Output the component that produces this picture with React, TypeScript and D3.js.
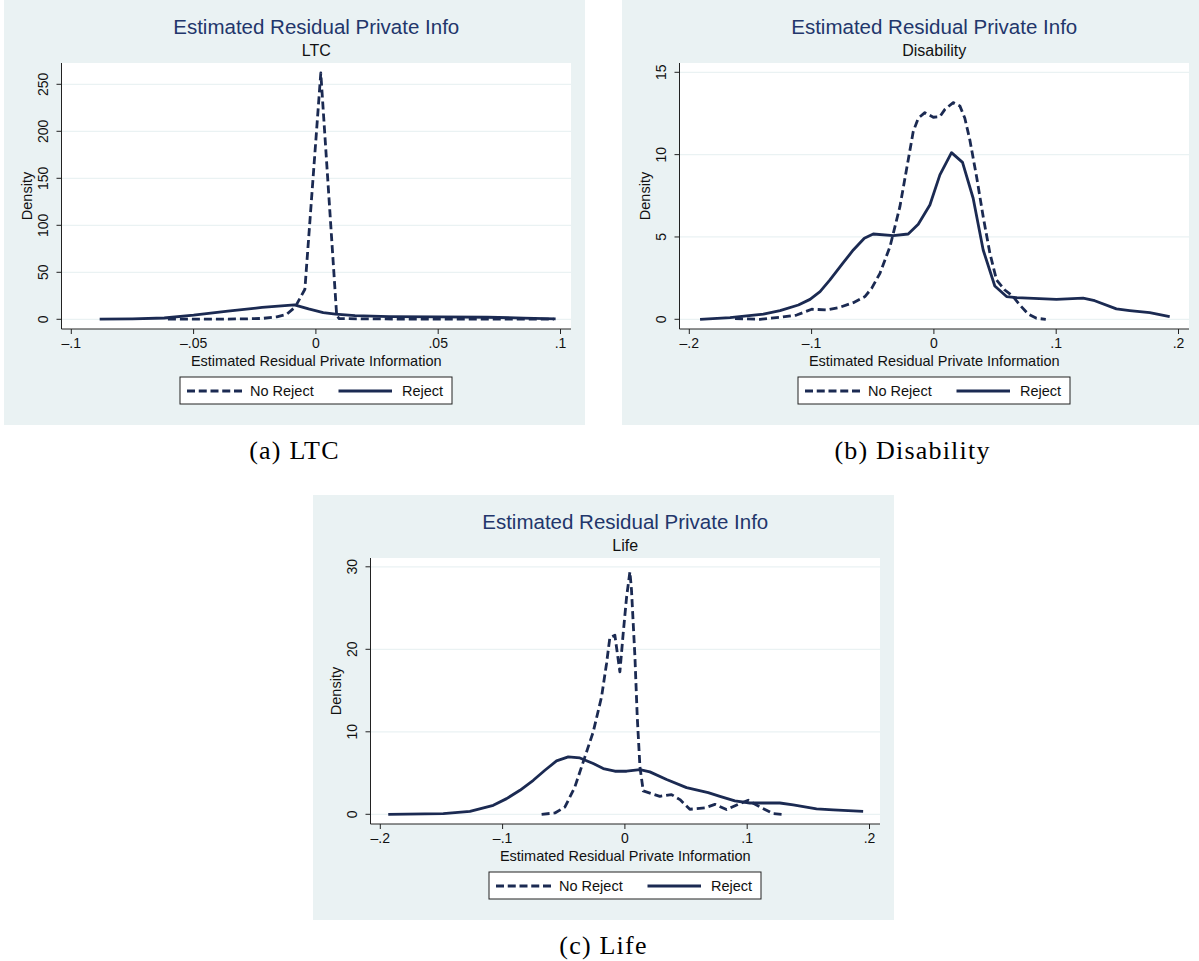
import React from "react";
import * as d3 from "d3";

type Pt = [number, number];

// kernel density curves: [residual, density]
const ltcNoReject: Pt[] = [
  [-0.0605, 0.1], [-0.05, 0.1], [-0.04, 0.2], [-0.03, 0.4], [-0.022, 0.9], [-0.016, 2.6],
  [-0.012, 5.2], [-0.0085, 13], [-0.0045, 32], [0.002, 262], [0.0085, 4], [0.0095, 0.8],
  [0.02, 0.4], [0.04, 0.3], [0.06, 0.2], [0.08, 0.1], [0.0973, 0.1],
];
const ltcReject: Pt[] = [
  [-0.0884, 0.1], [-0.075, 0.4], [-0.062, 1.4], [-0.05, 4.4], [-0.036, 8.8], [-0.022, 12.6],
  [-0.0088, 15.4], [-0.003, 11], [0.003, 7.2], [0.008, 5.6], [0.016, 3.9], [0.03, 2.9],
  [0.05, 2.5], [0.07, 2.2], [0.085, 1.3], [0.098, 0.4],
];

const disNoReject: Pt[] = [
  [-0.1626, 0.04], [-0.1422, 0], [-0.1258, 0.12], [-0.1122, 0.26], [-0.0999, 0.61], [-0.0877, 0.57],
  [-0.0768, 0.73], [-0.0659, 1.01], [-0.0564, 1.38], [-0.0509, 1.88], [-0.0441, 2.79], [-0.0359, 4.41],
  [-0.0278, 6.84], [-0.021, 9.68], [-0.0169, 11.4], [-0.0128, 12.21], [-0.0074, 12.55], [-0.0005, 12.27],
  [0.0049, 12.31], [0.009, 12.75], [0.0158, 13.16], [0.0212, 12.96], [0.0253, 12.21], [0.0294, 10.89],
  [0.0349, 8.66], [0.0403, 6.23], [0.0458, 4.01], [0.0512, 2.39], [0.058, 1.78], [0.0648, 1.38],
  [0.0703, 0.87], [0.0771, 0.32], [0.0839, 0.06], [0.0915, 0],
];
const disReject: Pt[] = [
  [-0.1912, 0], [-0.1667, 0.1], [-0.1394, 0.32], [-0.1258, 0.53], [-0.1108, 0.87], [-0.1013, 1.21],
  [-0.0931, 1.68], [-0.085, 2.39], [-0.0741, 3.44], [-0.0659, 4.21], [-0.0569, 4.92], [-0.0496, 5.18],
  [-0.0332, 5.08], [-0.021, 5.18], [-0.0128, 5.77], [-0.0033, 6.94], [0.0049, 8.77], [0.0144, 10.12],
  [0.0234, 9.53], [0.0321, 7.35], [0.0403, 4.21], [0.0498, 2.02], [0.0594, 1.38], [0.0675, 1.32],
  [0.1002, 1.21], [0.122, 1.28], [0.1315, 1.13], [0.1492, 0.63], [0.1601, 0.53], [0.1765, 0.4],
  [0.1928, 0.16],
];

const lifeNoReject: Pt[] = [
  [-0.0681, 0], [-0.0572, 0.16], [-0.049, 0.89], [-0.0409, 3.32], [-0.0327, 6.96], [-0.0259, 9.99],
  [-0.0191, 14.23], [-0.015, 18.28], [-0.0123, 21.43], [-0.0082, 21.71], [-0.0041, 17.27], [-0.0014, 21.92],
  [0.0014, 26.36], [0.0041, 29.4], [0.0054, 27.17], [0.0082, 19.09], [0.0101, 11.81], [0.0123, 5.74],
  [0.015, 2.83], [0.0218, 2.51], [0.0286, 2.18], [0.0381, 2.39], [0.045, 1.78], [0.0531, 0.61],
  [0.0654, 0.77], [0.0736, 1.21], [0.0831, 0.57], [0.0926, 1.21], [0.1008, 1.7], [0.1104, 0.89],
  [0.1213, 0.08], [0.1281, 0],
];
const lifeReject: Pt[] = [
  [-0.1935, 0], [-0.1485, 0.08], [-0.1267, 0.36], [-0.1076, 1.09], [-0.0967, 1.9], [-0.0858, 2.91],
  [-0.0749, 4.12], [-0.0654, 5.34], [-0.0559, 6.47], [-0.0463, 6.96], [-0.0368, 6.83], [-0.0259, 6.15],
  [-0.0177, 5.54], [-0.0082, 5.22], [0.0014, 5.22], [0.0123, 5.42], [0.0204, 5.14], [0.0341, 4.21],
  [0.0504, 3.23], [0.0681, 2.63], [0.0777, 2.18], [0.0899, 1.62], [0.1022, 1.37], [0.1267, 1.37],
  [0.1376, 1.13], [0.1567, 0.65], [0.1703, 0.53], [0.1948, 0.36],
];

const ltcXTicks = [-0.1, -0.05, 0, 0.05, 0.1];
const wideXTicks = [-0.2, -0.1, 0, 0.1, 0.2];
const ltcYTicks = [0, 50, 100, 150, 200, 250];
const disYTicks = [0, 5, 10, 15];
const lifeYTicks = [0, 10, 20, 30];

const titleText = "Estimated Residual Private Info";
const xTitle = "Estimated Residual Private Information";
const yTitle = "Density";
const legendLabels = ["No Reject", "Reject"];

const NAVY = "#1b2a52";
const TITLE = "#22366b";
const BG = "#eaf2f3";
const GRID = "#eaf2f3";
const SANS = "'Liberation Sans', Arial, sans-serif";
const SERIF = "'Liberation Serif', 'Times New Roman', serif";

// stata style: -.05 / .1 / 0
const fmt = (v: number) => {
  if (Math.abs(v) < 1e-9) return "0";
  const s = String(+Math.abs(v).toFixed(3)).replace(/^0/, "");
  return (v < 0 ? "\u2013" : "") + s;
};

const W = 581, H = 425;
const plotL = 57.5, plotR = 567, plotT = 63, plotB = 329;

interface PanelProps {
  ox: number; oy: number;
  xDomain: [number, number]; xTicks: number[];
  yMax: number; yTopPx: number; yTicks: number[];
  noReject: Pt[]; reject: Pt[];
  subtitle: string; caption: string;
}

function Panel(p: PanelProps) {
  const x = d3.scaleLinear().domain(p.xDomain).range([67.3, 556.5]);
  const y = d3.scaleLinear().domain([0, p.yMax]).range([319.3, p.yTopPx]);
  const line = d3.line<Pt>().x(d => x(d[0])).y(d => y(d[1]));
  const cx = (plotL + plotR) / 2;
  return (
    <g transform={`translate(${p.ox},${p.oy})`}>
      <rect x={0} y={0} width={W} height={H} fill={BG} />
      <rect x={plotL} y={plotT} width={plotR - plotL} height={plotB - plotT} fill="#fff" />
      {p.yTicks.map(t => (
        <line key={"g" + t} x1={plotL} x2={plotR} y1={y(t)} y2={y(t)} stroke={GRID} strokeWidth={1.2} />
      ))}
      <path d={line(p.reject) || ""} fill="none" stroke={NAVY} strokeWidth={2.8} strokeLinejoin="round" />
      <path d={line(p.noReject) || ""} fill="none" stroke={NAVY} strokeWidth={2.8} strokeDasharray="8,4" strokeLinejoin="round" />
      {/* axes */}
      <line x1={plotL} x2={plotL} y1={plotT} y2={plotB} stroke="#222" strokeWidth={1} />
      <line x1={plotL} x2={plotR} y1={plotB} y2={plotB} stroke="#222" strokeWidth={1} />
      {p.yTicks.map(t => (
        <g key={"y" + t}>
          <line x1={plotL - 5} x2={plotL} y1={y(t)} y2={y(t)} stroke="#222" strokeWidth={1} />
          <text transform={`translate(44,${y(t)}) rotate(-90)`} textAnchor="middle" fontSize={14} fontFamily={SANS} fill="#111">{fmt(t)}</text>
        </g>
      ))}
      {p.xTicks.map(t => (
        <g key={"x" + t}>
          <line x1={x(t)} x2={x(t)} y1={plotB} y2={plotB + 5} stroke="#222" strokeWidth={1} />
          <text x={x(t)} y={348} textAnchor="middle" fontSize={14} fontFamily={SANS} fill="#111">{fmt(t)}</text>
        </g>
      ))}
      <text transform={`translate(28,${(plotT + plotB) / 2}) rotate(-90)`} textAnchor="middle" fontSize={14.5} fontFamily={SANS} fill="#111">{yTitle}</text>
      <text x={cx} y={366} textAnchor="middle" fontSize={14.5} fontFamily={SANS} fill="#111">{xTitle}</text>
      <text x={cx} y={33.5} textAnchor="middle" fontSize={20.5} fontFamily={SANS} fill={TITLE}>{titleText}</text>
      <text x={cx} y={55.5} textAnchor="middle" fontSize={16} fontFamily={SANS} fill="#111">{p.subtitle}</text>
      {/* legend */}
      <rect x={176} y={377} width={272} height={27} fill="#fff" stroke="#222" strokeWidth={1} />
      <line x1={183} x2={238} y1={391} y2={391} stroke={NAVY} strokeWidth={2.8} strokeDasharray="8,3.75" />
      <text x={246} y={396} fontSize={14.5} fontFamily={SANS} fill="#111">{legendLabels[0]}</text>
      <line x1={334.5} x2={388} y1={391} y2={391} stroke={NAVY} strokeWidth={2.8} />
      <text x={398} y={396} fontSize={14.5} fontFamily={SANS} fill="#111">{legendLabels[1]}</text>
      {/* sub-figure caption */}
      <text x={W / 2} y={459} textAnchor="middle" fontSize={26} letterSpacing={1.2} fontFamily={SERIF} fill="#000">{p.caption}</text>
    </g>
  );
}

export default function App() {
  return (
    <svg width={1199} height={961} style={{ position: "absolute", left: 0, top: 0, background: "#fff" }}>
      <Panel ox={4} oy={0} xDomain={[-0.1, 0.1]} xTicks={ltcXTicks} yMax={250} yTopPx={84.3} yTicks={ltcYTicks}
        noReject={ltcNoReject} reject={ltcReject} subtitle="LTC" caption="(a) LTC" />
      <Panel ox={622} oy={0} xDomain={[-0.2, 0.2]} xTicks={wideXTicks} yMax={15} yTopPx={72.3} yTicks={disYTicks}
        noReject={disNoReject} reject={disReject} subtitle="Disability" caption="(b) Disability" />
      <Panel ox={313} oy={495} xDomain={[-0.2, 0.2]} xTicks={wideXTicks} yMax={30} yTopPx={71.8} yTicks={lifeYTicks}
        noReject={lifeNoReject} reject={lifeReject} subtitle="Life" caption="(c) Life" />
    </svg>
  );
}
